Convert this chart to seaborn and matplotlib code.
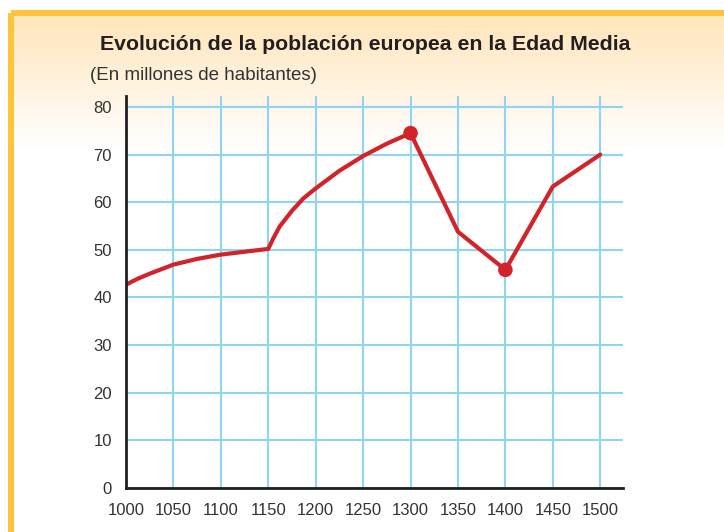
import numpy as np
import pandas as pd
import seaborn as sns
import matplotlib.pyplot as plt
from matplotlib.colors import LinearSegmentedColormap
from matplotlib.patches import Rectangle

# values (millions of inhabitants)
years = [1000, 1012, 1025, 1050, 1075, 1100, 1125, 1150, 1155, 1162, 1175,
         1187, 1200, 1225, 1250, 1275, 1300, 1350, 1400, 1450, 1500]
population = [42.7, 43.9, 45.0, 46.9, 48.1, 49.0, 49.6, 50.2, 52.3, 54.9, 58.2,
              60.8, 62.9, 66.6, 69.7, 72.3, 74.5, 53.8, 45.8, 63.3, 70.0]
marked_years = [1300, 1400]
marked_values = [74.5, 45.8]
x_ticks = list(range(1000, 1501, 50))
y_ticks = list(range(0, 81, 10))

title = 'Evolución de la población europea en la Edad Media'
subtitle = '(En millones de habitantes)'

red = '#D2232A'
grid_blue = '#8FD5F3'
dark = '#231F20'

sns.set_style('white')
plt.rcParams['font.family'] = ['Liberation Sans', 'DejaVu Sans']

W, H = 724, 532
fig = plt.figure(figsize=(W / 100, H / 100), dpi=100)

# background: orange frame and fading top band
bg = fig.add_axes([0, 0, 1, 1], zorder=0)
bg.set_xlim(0, W)
bg.set_ylim(H, 0)
bg.axis('off')
fade = LinearSegmentedColormap.from_list('fade', ['#FFE5BA', '#FFFFFF'])
bg.imshow(np.linspace(0, 1, 256).reshape(-1, 1), extent=(10, W, 150, 14),
          cmap=fade, aspect='auto', interpolation='bilinear')
bg.add_patch(Rectangle((10.5, 13), W, H, fill=False, ec='#FFC43A', lw=4.3))

ax = fig.add_axes([126 / W, 44 / H, 497 / W, 392 / H], zorder=1)
ax.set_facecolor('none')

df = pd.DataFrame({'year': years, 'population': population})
marks = pd.DataFrame({'year': marked_years, 'population': marked_values})

sns.lineplot(data=df, x='year', y='population', ax=ax, color=red,
             lw=3.0, zorder=3, solid_capstyle='round', solid_joinstyle='round')
sns.scatterplot(data=marks, x='year', y='population', ax=ax, color=red,
                s=110, edgecolor='none', zorder=4)

ax.set_xlim(1000, 1524)
ax.set_ylim(0, 82.3)
ax.set_xticks(x_ticks)
ax.set_yticks(y_ticks)
ax.set_xlabel('')
ax.set_ylabel('')
ax.grid(True, color=grid_blue, lw=1.5, zorder=1)
ax.set_axisbelow(True)

for side in ['top', 'right']:
    ax.spines[side].set_visible(False)
for side in ['left', 'bottom']:
    ax.spines[side].set_color(dark)
    ax.spines[side].set_linewidth(2.0)
    ax.spines[side].set_zorder(5)

ax.tick_params(axis='both', direction='out', length=6, width=1.6,
               color=dark, labelsize=12, labelcolor='#333333', pad=4)
ax.tick_params(axis='x', pad=5)

fig.text(365 / W, 1 - 45 / H, title, ha='center', va='center',
         fontsize=15.3, fontweight='bold', color=dark)
fig.text(90 / W, 1 - 76 / H, subtitle, ha='left', va='center',
         fontsize=13.5, color='#333333')

fig.savefig('out.png', dpi=100)
